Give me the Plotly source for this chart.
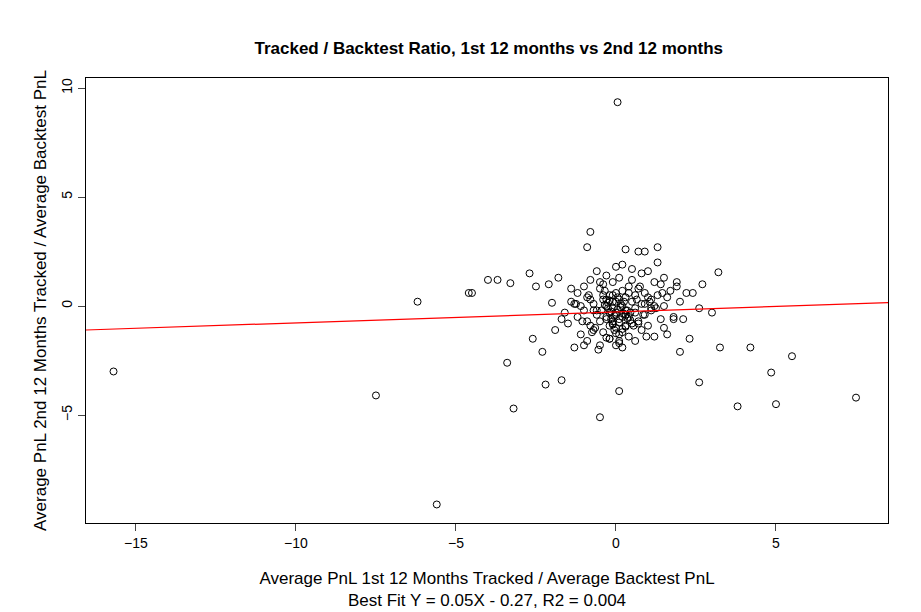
import plotly.graph_objects as go

# first 12 months ratio (x) vs second 12 months ratio (y)
x_first = [
    -15.7, -7.5, -6.2, -5.6, -4.5, -4.6, -4.0, -3.7, -3.3, -3.4, -3.2, -2.7, -2.6, -2.2, -2.0, -1.7,
    0.05, 0.1, -0.5, 2.6, 3.2, 3.25, 3.8, 4.2, 4.85, 5.0, 5.5, 7.5, -0.8, -0.9, 0.7, 0.9, 0.3, 1.3,
    -2.5, -2.1, 2.3, 2.0, 2.7, 2.6, 3.0, 2.2,
    -1.5, -1.4, -1.3, -1.2, -1.2, -1.1, -1.0, -1.0, -0.9, -0.9, -0.8, -0.8, -0.7, -0.7, -0.6, -0.6,
    -0.5, -0.5, -0.5, -0.4, -0.4, -0.4, -0.3, -0.3, -0.3, -0.2, -0.2, -0.2, -0.1, -0.1, -0.1, -0.1,
    0.0, 0.0, 0.0, 0.0, 0.1, 0.1, 0.1, 0.1, 0.2, 0.2, 0.2, 0.2, 0.3, 0.3, 0.3, 0.4, 0.4, 0.4,
    0.5, 0.5, 0.5, 0.6, 0.6, 0.6, 0.7, 0.7, 0.8, 0.8, 0.9, 0.9, 1.0, 1.0, 1.1, 1.1, 1.2, 1.2,
    1.3, 1.3, 1.4, 1.5, 1.5, 1.6, 1.7, 1.8, 1.9, 2.0, 1.6, 1.4, 1.1, 0.8, 0.5, 0.2, -0.1, -0.4,
    -0.7, -1.0, -1.3, -1.6, -1.8, -1.9, -1.4, -1.1, -0.8, -0.6, -0.3, 0.0, 0.3, 0.6, 0.9, 1.2,
    -0.2, 0.1, 0.4, -0.5, 0.7, 1.0, -0.9, 1.5, 1.8, -1.7, -0.3, 0.0, 0.2, -0.1, 0.15, -0.25,
    0.35, 0.05, -0.35, 0.45, -0.15, 0.25, 0.55, -0.45, 0.65, -0.65, 0.85, -0.85, 1.05, -1.05,
    1.25, -1.25, 0.75, -0.75, 1.45, -0.05, 0.1, -0.2, 0.3, 0.0, 2.4, 2.1, 1.9, -2.3, 0.95, -0.55,
    -0.15, 0.05, 0.25, -0.05, 0.15, -0.35, 0.35, -0.25, 0.45, 0.1, -0.1, 0.2, -0.2, 0.0, 0.3, -0.3,
]
y_second = [
    -3.0, -4.1, 0.2, -9.1, 0.6, 0.6, 1.2, 1.2, 1.05, -2.6, -4.7, 1.5, -1.5, -3.6, 0.15, -3.4,
    9.35, -3.9, -5.1, -3.5, 1.55, -1.9, -4.6, -1.9, -3.05, -4.5, -2.3, -4.2, 3.4, 2.7, 2.5, 2.5, 2.6, 2.7,
    0.9, 1.0, -1.5, -2.1, 1.0, -0.1, -0.3, 0.6,
    -0.8, 0.2, -1.9, -0.5, 0.6, -1.3, 0.9, -0.2, -1.6, 0.4, -0.9, 1.2, 0.1, -1.1, 1.6, -0.4,
    0.8, -0.7, -1.8, 0.3, -1.2, 1.0, 0.0, -0.6, 1.4, -0.3, 0.5, -1.5, 0.2, -0.8, 1.1, -0.1,
    0.6, -0.4, 1.8, -1.0, 0.3, -0.6, 1.3, -1.7, 0.0, 0.7, -1.2, 1.9, -0.2, 0.4, -0.9, 0.9, -0.5, -1.4,
    0.2, -0.8, 1.2, 0.5, -0.3, -1.6, 0.8, -0.7, 0.1, 1.5, -0.4, 0.6, 1.6, -0.9, 0.3, -0.2, 1.1, -1.4,
    0.5, 2.0, -0.6, 1.3, -1.0, 0.4, 0.7, -0.5, 0.9, 0.2, -1.3, 1.0, -0.1, -1.1, 1.7, -1.9, -0.7, 0.5,
    -0.2, -1.8, 0.1, -0.3, 1.3, -1.1, 0.8, 0.0, 0.3, -0.2, -0.5, 0.2, -0.4, -0.1, 0.1, 0.0,
    -0.9, -1.3, 0.6, 1.1, -0.8, 0.4, -0.7, 0.0, -0.6, -0.6, 0.3, -0.3, -0.5, 0.5, 0.1, -0.1,
    -0.2, 0.4, 0.7, -0.3, -0.6, 0.2, -0.9, -0.2, 0.3, -1.0, -0.4, 0.5, 0.2, -0.7,
    -0.1, 0.1, 0.9, -1.2, 0.6, -1.1, -1.6, -1.5, -0.4, -1.8, 0.6, -0.6, 1.1, -2.1, -1.4, -2.0,
    -0.25, -0.15, -0.35, -0.45, -0.05, 0.05, -0.55, 0.15, -0.65, -0.75, -0.85, -1.05, 0.25, -1.25, -0.95, -1.45,
]

fit_slope = 0.05
fit_intercept = -0.27
x_range = [-16.56, 8.5]

fig = go.Figure()
fig.add_trace(go.Scatter(
    x=x_first, y=y_second, mode="markers",
    marker=dict(symbol="circle-open", size=7, color="black", line=dict(width=1)),
    showlegend=False,
))
fig.add_trace(go.Scatter(
    x=x_range, y=[fit_intercept + fit_slope * v for v in x_range], mode="lines",
    line=dict(color="red", width=1.2), showlegend=False,
))

fig.update_layout(
    width=921, height=612,
    plot_bgcolor="white", paper_bgcolor="white",
    font=dict(family="Liberation Sans, Arial", size=14, color="black"),
    title=dict(text="<b>Tracked / Backtest Ratio, 1st 12 months vs 2nd 12 months</b>",
               x=0.522, xanchor="center", y=0.945, font=dict(size=17)),
    margin=dict(l=78, r=41, t=70, b=97),
    xaxis=dict(range=x_range, tickvals=[-15, -10, -5, 0, 5], showgrid=False, zeroline=False,
               showline=True, mirror=True, linecolor="black", ticks="outside", ticklen=7,
               automargin=False,
               title=dict(text="Average PnL 1st 12 Months Tracked / Average Backtest PnL<br>Best Fit Y = 0.05X - 0.27, R2 = 0.004",
                          standoff=22)),
    yaxis=dict(range=[-9.95, 10.46], tickvals=[-5, 0, 5, 10], showgrid=False, zeroline=False,
               showline=True, mirror=True, linecolor="black", ticks="outside", ticklen=7,
               tickangle=-90, automargin=False,
               title=dict(text="Average PnL 2nd 12 Months Tracked / Average Backtest PnL", standoff=8)),
)

fig.write_html("out.html")
